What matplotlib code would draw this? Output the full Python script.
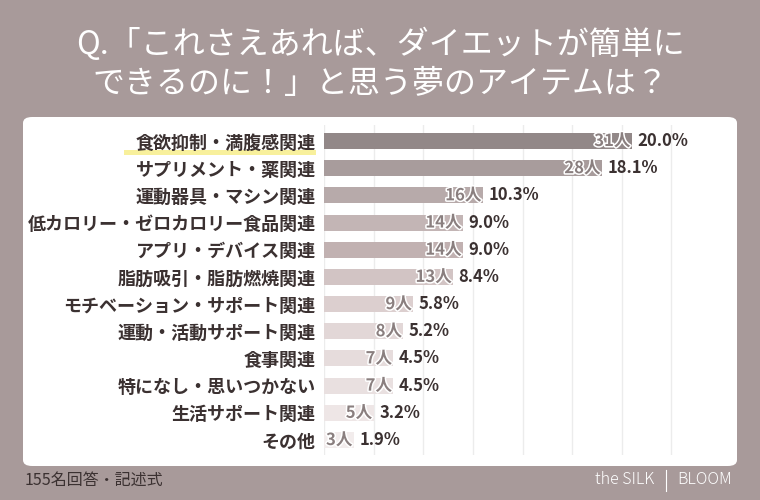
import matplotlib
matplotlib.use("Agg")
import matplotlib.pyplot as plt
import matplotlib.patheffects as pe
from matplotlib.patches import FancyBboxPatch, Rectangle

plt.rcParams["font.family"] = ["Noto Sans CJK JP", "DejaVu Sans"]

categories = [
    "食欲抑制・満腹感関連",
    "サプリメント・薬関連",
    "運動器具・マシン関連",
    "低カロリー・ゼロカロリー食品関連",
    "アプリ・デバイス関連",
    "脂肪吸引・脂肪燃焼関連",
    "モチベーション・サポート関連",
    "運動・活動サポート関連",
    "食事関連",
    "特になし・思いつかない",
    "生活サポート関連",
    "その他",
]
counts = [31, 28, 16, 14, 14, 13, 9, 8, 7, 7, 5, 3]
percents = [20.0, 18.1, 10.3, 9.0, 9.0, 8.4, 5.8, 5.2, 4.5, 4.5, 3.2, 1.9]

bar_colors = ["#928888", "#a89c9c", "#b7aaaa", "#c3b5b5", "#c1b1b1", "#d2c4c4",
              "#dccfcf", "#e2d7d7", "#e6dcdc", "#e9e0e0", "#eee6e6", "#f2ecec"]

BG = "#a89a9a"
DARK = "#3b3131"

W, H = 760, 500
fig = plt.figure(figsize=(7.6, 5.0), dpi=100, facecolor=BG)

# white panel
panel = FancyBboxPatch((23 / W, (H - 466) / H), (737 - 23) / W, (466 - 117) / H,
                       boxstyle="round,pad=0,rounding_size=0.012",
                       transform=fig.transFigure, facecolor="white",
                       edgecolor="none", zorder=-2)
fig.patches.append(panel)

# yellow highlight under the top label
fig.patches.append(Rectangle((124 / W, (H - 155) / H), 192 / W, 5 / H,
                             transform=fig.transFigure, facecolor="#f8f09c",
                             edgecolor="none", zorder=-1))

# title
fig.text(0.5, 1 - 44 / H, "Q.「これさえあれば、ダイエットが簡単に",
         ha="center", va="center", color="white", fontsize=23)
fig.text(0.5, 1 - 84 / H, "できるのに！」と思う夢のアイテムは？",
         ha="center", va="center", color="white", fontsize=23)

# chart axes
ax = fig.add_axes([324 / W, (H - 455) / H, 407 / W, 330 / H])
ax.set_facecolor("none")
n = len(categories)
ypos = list(range(n))
ax.barh(ypos, counts, height=0.59, color=bar_colors, zorder=2)
ax.set_xlim(0, 41)
ax.set_ylim(n - 1 + 15 / 27.2, -16 / 27.2)
ax.set_xticks(range(0, 40, 5))
ax.xaxis.grid(True, color="#ececec", linewidth=1, zorder=0)
ax.set_axisbelow(True)
ax.tick_params(axis="x", length=0, labelbottom=False)
ax.set_yticks(ypos)
ax.set_yticklabels(categories, fontsize=13, fontweight="bold", color=DARK)
ax.tick_params(axis="y", length=0, pad=6)
for s in ax.spines.values():
    s.set_visible(False)

for y, c, p in zip(ypos, counts, percents):
    ax.annotate(f"{c}人", (c, y), xytext=(-1, 0), textcoords="offset points",
                ha="right", va="center", fontsize=12, color="#8a7f7f",
                fontweight="bold", zorder=3,
                path_effects=[pe.withStroke(linewidth=2.2, foreground="white")])
    ax.annotate(f"{p:.1f}%", (c, y), xytext=(4, 0), textcoords="offset points",
                ha="left", va="center", fontsize=12, color=DARK,
                fontweight="bold", zorder=3)

# footer
fig.text(25 / W, 1 - 480 / H, "155名回答・記述式", ha="left", va="center",
         color=DARK, fontsize=11.5)
fig.text(654 / W, 1 - 480 / H, "the SILK", ha="right", va="center",
         color="white", fontsize=11.5, fontweight="light")
fig.text(677 / W, 1 - 480 / H, "BLOOM", ha="left", va="center",
         color="white", fontsize=11.5, fontweight="light")
fig.add_artist(plt.Line2D([666 / W, 666 / W], [1 - 470 / H, 1 - 491 / H],
                          transform=fig.transFigure, color="white", linewidth=0.8))

fig.savefig("out.png", dpi=100, facecolor=BG)
